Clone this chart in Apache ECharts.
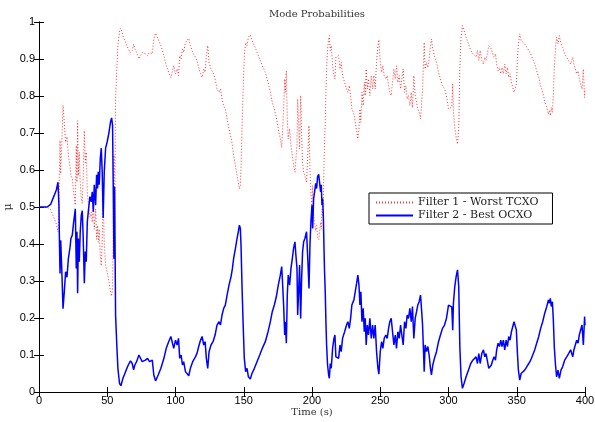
<!DOCTYPE html>
<html>
<head>
<meta charset="utf-8">
<script src="https://cdn.jsdelivr.net/npm/echarts@6/dist/echarts.min.js"></script>
<style>html,body{margin:0;padding:0;background:#fff}#c{width:595px;height:422px}</style>
</head>
<body>
<div id="c"></div>
<script>
var titleText = 'Mode Probabilities';
var xName = 'Time (s)';
var yName = 'μ';
var seriesNames = ['Filter 1 - Worst TCXO', 'Filter 2 - Best OCXO'];
var xTicks = [0, 50, 100, 150, 200, 250, 300, 350, 400];
var yTicks = [0, 0.1, 0.2, 0.3, 0.4, 0.5, 0.6, 0.7, 0.8, 0.9, 1];

var times = [
0,3,6,8.5,11,12.7,13.9,14.6,15,15.4,
15.9,16.6,17.6,18.5,19.5,20.5,21.5,22.7,23.4,24.4,
25.4,26.6,27.3,27.8,28.3,28.8,29.5,30.2,31,31.7,
32.4,33.2,33.9,34.6,35.4,36.1,37.3,38.3,39,39.8,
40.5,41.5,42.2,42.9,43.4,44.1,44.9,45.6,46.3,47,
47.8,48.8,50,51.2,52.4,53.2,53.9,54.4,54.9,55.4,
56.1,57,57.8,59,60,61.5,63.4,65.4,67,68.3,
69.3,70.2,71.5,73.2,74.6,75.6,76.8,78,79.5,81,
82,83,84.1,85.4,87.3,89.3,91.5,93.2,95,96.6,
97.6,98.7,100,101.2,102.2,103.1,104.1,105.1,106,107.3,
108.5,109.7,110.9,112.6,114.6,115.8,117,118.3,119.5,120.7,
121.7,122.6,123.6,124.6,126,127.5,129,130.4,131.9,132.9,
134.1,135.3,136.5,137.8,139.2,140.7,141.7,142.6,143.9,145.1,
146,146.8,147.5,148,148.7,149.5,150.4,151.4,152.4,153.4,
154.8,156,157.8,159.7,161.7,163.6,165.8,167.8,169.5,170.9,
172.4,173.9,175.3,176.8,177.8,178.5,179.2,180,180.5,181.2,
181.9,182.6,183.6,184.6,185.6,186.5,187.5,188.2,189,189.5,
190.2,190.9,191.7,192.4,193.1,193.9,194.8,196,197,197.8,
198.5,199.2,200,200.5,201.2,201.9,202.7,203.4,204.1,204.9,
205.6,206.3,206.8,207.3,207.8,208.3,208.8,209.2,209.7,210.2,
210.7,211.4,212.2,212.7,213.4,214.1,215.1,216.1,216.8,217.5,
218.5,219.5,220.5,221.4,222.4,223.9,225.3,226.3,227.3,228.3,
229.2,230.7,231.7,232.7,233.6,234.4,235.1,235.8,236.6,237.5,
238.3,239,239.7,240.5,241.4,242.4,243.4,244.4,245.3,246.3,
247.3,248.3,249,250,251,251.9,252.9,254.1,255.1,256.1,
257,258,259,260,261,261.9,262.9,263.9,264.9,265.8,
266.8,267.8,268.8,269.7,270.7,271.7,272.7,273.6,274.6,275.6,
276.6,277.5,278.5,279.5,280.2,281,281.7,282.2,282.9,283.9,
284.9,285.8,286.8,287.5,288.5,289.7,291.2,292.7,294.1,295.6,
297.1,298.5,300,301.2,302.4,303.1,303.6,304.6,305.6,306.6,
307.5,308.3,309.2,310.2,311.4,312.9,314.6,316.3,317.8,319.2,
320.2,321.2,322.2,323.2,324.4,325.6,326.6,327.5,328.5,329.5,
330.5,331.4,332.4,333.4,334.4,335.3,336.3,337.3,338.3,339.2,
340.2,341.2,342.2,343.2,344.1,345.1,346.1,347.1,348,349,
349.7,350.5,351.2,352.2,353.2,354.4,355.8,357.3,358.8,360.2,
361.7,363.2,364.6,366.1,367.5,369,370.5,372,373.2,373.9,
374.6,375.3,376.1,376.8,377.5,378.3,379.2,380.2,381.2,382.4,
383.6,385.1,386.6,388,389.5,391,391.9,392.9,393.9,394.9,
395.8,396.8,397.8,398.8,399.7,400
];

var filter2Best = [
0.5,0.5,0.5,0.507,0.53,0.546,0.567,0.505,0.40,0.32,
0.41,0.34,0.225,0.27,0.325,0.31,0.36,0.39,0.415,0.424,
0.46,0.495,0.334,0.433,0.267,0.415,0.352,0.433,0.478,0.49,
0.415,0.294,0.38,0.352,0.46,0.487,0.528,0.514,0.541,0.487,
0.56,0.505,0.587,0.55,0.595,0.56,0.63,0.659,0.595,0.47,
0.595,0.659,0.677,0.70,0.73,0.741,0.72,0.55,0.36,0.555,
0.208,0.127,0.064,0.023,0.017,0.037,0.055,0.073,0.084,0.077,
0.06,0.073,0.082,0.10,0.105,0.082,0.077,0.086,0.091,0.082,
0.086,0.086,0.046,0.03,0.046,0.064,0.091,0.118,0.136,0.15,
0.154,0.118,0.14,0.127,0.145,0.091,0.10,0.073,0.082,0.055,
0.05,0.044,0.064,0.082,0.095,0.105,0.123,0.14,0.15,0.127,
0.136,0.091,0.064,0.109,0.127,0.136,0.154,0.181,0.19,0.181,
0.208,0.226,0.235,0.262,0.289,0.312,0.334,0.361,0.388,0.415,
0.433,0.451,0.442,0.397,0.289,0.19,0.091,0.055,0.064,0.041,
0.035,0.05,0.064,0.082,0.10,0.118,0.136,0.163,0.19,0.217,
0.235,0.258,0.289,0.316,0.339,0.289,0.235,0.154,0.19,0.132,
0.262,0.316,0.289,0.334,0.361,0.388,0.406,0.37,0.334,0.208,
0.271,0.343,0.199,0.307,0.379,0.406,0.415,0.433,0.352,0.28,
0.397,0.46,0.505,0.442,0.523,0.541,0.564,0.55,0.582,0.588,
0.585,0.541,0.56,0.505,0.523,0.478,0.388,0.325,0.271,0.19,
0.127,0.073,0.046,0.037,0.077,0.064,0.118,0.145,0.154,0.095,
0.10,0.091,0.127,0.109,0.145,0.163,0.181,0.19,0.172,0.199,
0.235,0.249,0.271,0.294,0.316,0.289,0.235,0.271,0.19,0.226,
0.163,0.199,0.127,0.181,0.154,0.199,0.145,0.181,0.145,0.181,
0.109,0.064,0.048,0.109,0.136,0.118,0.145,0.154,0.145,0.172,
0.19,0.199,0.163,0.127,0.154,0.118,0.163,0.145,0.181,0.154,
0.127,0.19,0.172,0.208,0.199,0.226,0.19,0.231,0.145,0.199,
0.217,0.235,0.244,0.262,0.226,0.181,0.109,0.055,0.127,0.109,
0.123,0.10,0.064,0.046,0.073,0.091,0.109,0.136,0.154,0.172,
0.181,0.199,0.235,0.24,0.23,0.167,0.24,0.285,0.312,0.33,
0.285,0.123,0.041,0.01,0.023,0.041,0.059,0.077,0.086,0.086,
0.095,0.077,0.104,0.077,0.104,0.114,0.095,0.104,0.104,0.064,
0.059,0.073,0.086,0.095,0.086,0.114,0.132,0.123,0.14,0.123,
0.14,0.114,0.14,0.123,0.15,0.14,0.163,0.177,0.19,0.195,
0.168,0.104,0.059,0.032,0.05,0.05,0.059,0.068,0.077,0.086,
0.10,0.114,0.132,0.15,0.172,0.19,0.213,0.231,0.249,0.24,
0.253,0.231,0.244,0.195,0.123,0.077,0.041,0.059,0.037,0.059,
0.068,0.086,0.095,0.104,0.114,0.095,0.114,0.127,0.14,0.132,
0.154,0.168,0.181,0.127,0.204,0.18
];

var filter1Worst = [
0.5,0.5,0.5,0.493,0.47,0.454,0.433,0.495,0.60,0.68,
0.59,0.66,0.775,0.73,0.675,0.69,0.64,0.61,0.585,0.576,
0.54,0.505,0.666,0.567,0.733,0.585,0.648,0.567,0.522,0.51,
0.585,0.706,0.62,0.648,0.54,0.513,0.472,0.486,0.459,0.513,
0.44,0.495,0.413,0.45,0.405,0.44,0.37,0.341,0.405,0.53,
0.405,0.341,0.323,0.30,0.27,0.259,0.28,0.45,0.64,0.445,
0.792,0.873,0.936,0.977,0.983,0.963,0.945,0.927,0.916,0.923,
0.94,0.927,0.918,0.90,0.895,0.918,0.923,0.914,0.909,0.918,
0.914,0.914,0.954,0.97,0.954,0.936,0.909,0.882,0.864,0.85,
0.846,0.882,0.86,0.873,0.855,0.909,0.90,0.927,0.918,0.945,
0.95,0.956,0.936,0.918,0.905,0.895,0.877,0.86,0.85,0.873,
0.864,0.909,0.936,0.891,0.873,0.864,0.846,0.819,0.81,0.819,
0.792,0.774,0.765,0.738,0.711,0.688,0.666,0.639,0.612,0.585,
0.567,0.549,0.558,0.603,0.711,0.81,0.909,0.945,0.936,0.959,
0.965,0.95,0.936,0.918,0.90,0.882,0.864,0.837,0.81,0.783,
0.765,0.742,0.711,0.684,0.661,0.711,0.765,0.846,0.81,0.868,
0.738,0.684,0.711,0.666,0.639,0.612,0.594,0.63,0.666,0.792,
0.729,0.657,0.801,0.693,0.621,0.594,0.585,0.567,0.648,0.72,
0.603,0.54,0.495,0.558,0.477,0.459,0.436,0.45,0.418,0.412,
0.415,0.459,0.44,0.495,0.477,0.522,0.612,0.675,0.729,0.81,
0.873,0.927,0.954,0.963,0.923,0.936,0.882,0.855,0.846,0.905,
0.90,0.909,0.873,0.891,0.855,0.837,0.819,0.81,0.828,0.801,
0.765,0.751,0.729,0.706,0.684,0.711,0.765,0.729,0.81,0.774,
0.837,0.801,0.873,0.819,0.846,0.801,0.855,0.819,0.855,0.819,
0.891,0.936,0.952,0.891,0.864,0.882,0.855,0.846,0.855,0.828,
0.81,0.801,0.837,0.873,0.846,0.882,0.837,0.855,0.819,0.846,
0.873,0.81,0.828,0.792,0.801,0.774,0.81,0.769,0.855,0.801,
0.783,0.765,0.756,0.738,0.774,0.819,0.891,0.945,0.873,0.891,
0.877,0.90,0.936,0.954,0.927,0.909,0.891,0.864,0.846,0.828,
0.819,0.801,0.765,0.76,0.77,0.833,0.76,0.715,0.688,0.67,
0.715,0.877,0.959,0.99,0.977,0.959,0.941,0.923,0.914,0.914,
0.905,0.923,0.896,0.923,0.896,0.886,0.905,0.896,0.896,0.936,
0.941,0.927,0.914,0.905,0.914,0.886,0.868,0.877,0.86,0.877,
0.86,0.886,0.86,0.877,0.85,0.86,0.837,0.823,0.81,0.805,
0.832,0.896,0.941,0.968,0.95,0.95,0.941,0.932,0.923,0.914,
0.90,0.886,0.868,0.85,0.828,0.81,0.787,0.769,0.751,0.76,
0.747,0.769,0.756,0.805,0.877,0.923,0.959,0.941,0.963,0.941,
0.932,0.914,0.905,0.896,0.886,0.905,0.886,0.873,0.86,0.868,
0.846,0.832,0.819,0.873,0.796,0.82
];

function pairs(xs, ys) {
  var out = [];
  for (var i = 0; i < xs.length && i < ys.length; i++) out.push([xs[i], ys[i]]);
  return out;
}

var serifFont = 'DejaVu Serif';
var sansFont = 'Liberation Sans';

var chart = echarts.init(document.getElementById('c'), null, {renderer: 'canvas'});
chart.setOption({
  animation: false,
  backgroundColor: '#fff',
  title: {
    text: titleText,
    left: 312,
    top: 4,
    textAlign: 'center',
    textStyle: {fontFamily: serifFont, fontSize: 10, fontWeight: 'normal', color: '#333'}
  },
  grid: {left: 39, right: 10, top: 22, bottom: 30, containLabel: false, outerBoundsMode: 'none'},
  legend: {
    data: seriesNames,
    orient: 'vertical',
    left: 369,
    top: 193,
    padding: [4, 14, 3, 6],
    itemGap: 2,
    itemWidth: 37,
    itemHeight: 10,
    backgroundColor: '#fff',
    borderColor: '#000',
    borderWidth: 1,
    borderRadius: 0,
    itemStyle: {opacity: 0},
    textStyle: {fontFamily: serifFont, fontSize: 11, color: '#222'}
  },
  xAxis: [{
    type: 'value', min: xTicks[0], max: xTicks[xTicks.length - 1], interval: 50,
    name: xName, nameLocation: 'middle', nameGap: 15, nameMoveOverlap: false,
    nameTextStyle: {fontFamily: serifFont, fontSize: 10, color: '#333'},
    axisLine: {show: true, lineStyle: {color: '#000', width: 1}},
    axisTick: {show: true, inside: true, length: 5, lineStyle: {color: '#000'}},
    axisLabel: {fontFamily: sansFont, fontSize: 11, color: '#000', margin: 3},
    splitLine: {show: false}
  }, {
    type: 'value', position: 'top', min: xTicks[0], max: xTicks[xTicks.length - 1], interval: 50,
    axisLine: {show: true, lineStyle: {color: '#000', width: 1}},
    axisTick: {show: true, inside: true, length: 5, lineStyle: {color: '#000'}},
    axisLabel: {show: false},
    splitLine: {show: false}
  }],
  yAxis: [{
    type: 'value', min: yTicks[0], max: yTicks[yTicks.length - 1], interval: 0.1,
    name: yName, nameLocation: 'middle', nameGap: 25, nameRotate: 90, nameMoveOverlap: false,
    nameTextStyle: {fontFamily: serifFont, fontSize: 11, color: '#333'},
    axisLine: {show: true, lineStyle: {color: '#000', width: 1}},
    axisTick: {show: true, inside: true, length: 5, lineStyle: {color: '#000'}},
    axisLabel: {fontFamily: sansFont, fontSize: 11, color: '#000', margin: 4},
    splitLine: {show: false}
  }, {
    type: 'value', position: 'right', min: yTicks[0], max: yTicks[yTicks.length - 1], interval: 0.1,
    axisLine: {show: true, lineStyle: {color: '#000', width: 1}},
    axisTick: {show: true, inside: true, length: 5, lineStyle: {color: '#000'}},
    axisLabel: {show: false},
    splitLine: {show: false}
  }],
  series: [{
    name: seriesNames[0],
    type: 'line',
    data: pairs(times, filter1Worst),
    showSymbol: false,
    symbol: 'none',
    color: '#ff0000',
    lineStyle: {color: 'rgba(255,0,0,0.8)', width: 1, type: [1, 2]},
    z: 2
  }, {
    name: seriesNames[1],
    type: 'line',
    data: pairs(times, filter2Best),
    showSymbol: false,
    symbol: 'none',
    color: '#0000ff',
    lineStyle: {color: '#0000ff', width: 1.5},
    z: 3
  }]
});
</script>
</body>
</html>
